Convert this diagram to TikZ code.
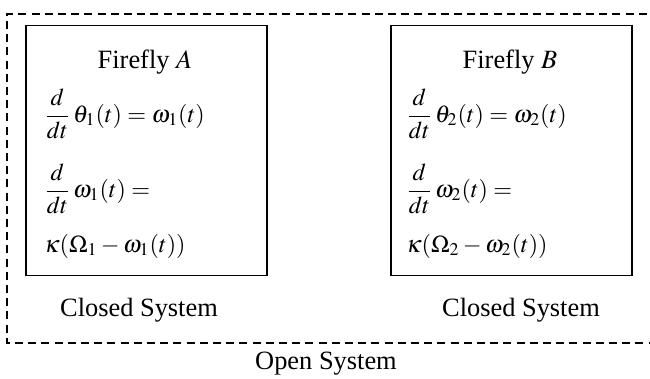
\documentclass[tikz,border=0pt]{standalone}
\usepackage{mathptmx}
\usepackage{fontspec}
\setmainfont{Liberation Serif}
\newcommand{\ddt}{\frac{d\rule[-2pt]{0pt}{0pt}}{\rule{0pt}{9.5pt}dt}}
\begin{document}
\begin{tikzpicture}[x=0.5pt,y=-0.5pt,
  sys/.style={draw,line width=0.6pt,minimum width=120.5pt,minimum height=125pt,inner sep=0pt},
  txt/.style={inner sep=0pt,font=\fontsize{13.2}{16}\selectfont},
  eq/.style={inner sep=0pt,anchor=west,font=\fontsize{12.1}{14}\selectfont},
  outer/.style={dashed,line width=0.8pt,dash pattern=on 4pt off 2.6pt}]
\useasboundingbox (0,0) rectangle (650,379);
\node[sys] (boxA) at (146.5,150.5) {};
\node[sys] (boxB) at (511.5,150.5) {};
\node[txt] (titleA) at (145,62) {Firefly $A$};
\node[txt] (titleB) at (510,62) {Firefly $B$};
\node[eq] (a1) at (44,114) {$\displaystyle\ddt\,\theta_1(t)=\omega_1(t)$};
\node[eq] (a2) at (44,189) {$\displaystyle\ddt\,\omega_1(t)=$};
\node[eq] (a3) at (44,246) {$\displaystyle\kappa(\Omega_1-\omega_1(t))$};
\node[eq] (b1) at (406,114) {$\displaystyle\ddt\,\theta_2(t)=\omega_2(t)$};
\node[eq] (b2) at (406,189) {$\displaystyle\ddt\,\omega_2(t)=$};
\node[eq] (b3) at (406,246) {$\displaystyle\kappa(\Omega_2-\omega_2(t))$};
\node[txt] (closedA) at (139,310) {Closed System};
\node[txt] (closedB) at (521,310) {Closed System};
\node[txt] (open) at (326,364) {Open System};
\coordinate (tr) at (660,14);
\coordinate (tl) at (7,14);
\coordinate (bl) at (7,343);
\coordinate (br) at (660,343);
\draw[outer] (tr) -- (tl) -- (bl) -- (br);
\end{tikzpicture}
\end{document}
